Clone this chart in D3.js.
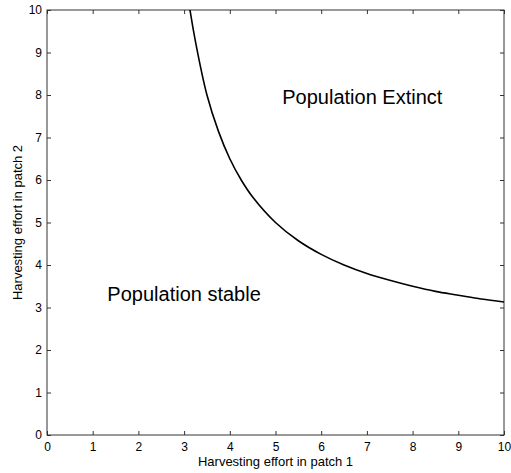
<!doctype html>
<html lang="en">
<head>
  <meta charset="utf-8">
  <title>Harvesting effort</title>
  <script src="https://cdn.jsdelivr.net/npm/d3@7"></script>
  <style>
    body { margin: 0; background: #fff; }
    text { font-family: Arial, "Liberation Sans", sans-serif; fill: #000; }
    .axis path, .axis line { stroke: #333; }
  </style>
</head>
<body>
<svg id="chart" width="511" height="473"></svg>
<script>
  // boundary curve
  var effort1 = [3.0, 3.1, 3.25, 3.5, 3.75, 4.0, 4.25, 4.5, 5.0, 5.5, 6.0, 6.5, 7.0, 7.5, 8.0, 8.5, 9.0, 9.5, 10];
  var effort2 = [11.0, 10.2, 9.25, 8.0, 7.15, 6.5, 6.0, 5.6, 5.0, 4.57, 4.25, 4.0, 3.8, 3.64, 3.5, 3.38, 3.29, 3.2, 3.13];
  var tickVals = [0, 1, 2, 3, 4, 5, 6, 7, 8, 9, 10];
  var labels = [
    { text: "Population Extinct", x: 6.9, y: 7.8 },
    { text: "Population stable", x: 3.0, y: 3.15 }
  ];

  var svg = d3.select("#chart");
  var plotL = 47, plotR = 504, plotT = 10, plotB = 435;

  var x = d3.scaleLinear().domain([0, 10]).range([plotL, plotR]);
  var y = d3.scaleLinear().domain([0, 10]).range([plotB, plotT]);

  svg.append("defs").append("clipPath").attr("id", "clip")
    .append("rect").attr("x", plotL).attr("y", plotT)
    .attr("width", plotR - plotL).attr("height", plotB - plotT);

  // box
  svg.append("rect")
    .attr("x", plotL).attr("y", plotT)
    .attr("width", plotR - plotL).attr("height", plotB - plotT)
    .attr("fill", "none").attr("stroke", "#333").attr("stroke-width", 1);

  // axes with inward ticks
  var gx = svg.append("g").attr("class", "axis").attr("transform", "translate(0," + plotB + ")")
    .call(d3.axisBottom(x).tickValues(tickVals).tickSizeInner(-4).tickSizeOuter(0).tickPadding(7));
  var gy = svg.append("g").attr("class", "axis").attr("transform", "translate(" + plotL + ",0)")
    .call(d3.axisLeft(y).tickValues(tickVals).tickSizeInner(-4).tickSizeOuter(0).tickPadding(5));
  svg.append("g").attr("class", "axis").attr("transform", "translate(0," + plotT + ")")
    .call(d3.axisTop(x).tickValues(tickVals).tickSizeInner(-4).tickSizeOuter(0).tickFormat(""));
  svg.append("g").attr("class", "axis").attr("transform", "translate(" + plotR + ",0)")
    .call(d3.axisRight(y).tickValues(tickVals).tickSizeInner(-4).tickSizeOuter(0).tickFormat(""));

  svg.selectAll(".axis .domain").remove();
  gx.selectAll("text").attr("font-size", 12).style("font-family", "Arial, 'Liberation Sans', sans-serif");
  gy.selectAll("text").attr("font-size", 12).style("font-family", "Arial, 'Liberation Sans', sans-serif");

  // boundary line
  var pts = effort1.map(function(d, i) { return [d, effort2[i]]; });
  var line = d3.line()
    .x(function(d) { return x(d[0]); })
    .y(function(d) { return y(d[1]); })
    .curve(d3.curveCatmullRom.alpha(0.5));
  svg.append("path")
    .datum(pts)
    .attr("clip-path", "url(#clip)")
    .attr("d", line)
    .attr("fill", "none")
    .attr("stroke", "#000")
    .attr("stroke-width", 1.6);

  svg.selectAll(".region")
    .data(labels).enter()
    .append("text")
    .attr("class", "region")
    .attr("x", function(d) { return x(d.x); })
    .attr("y", function(d) { return y(d.y); })
    .attr("text-anchor", "middle")
    .attr("font-size", 20)
    .text(function(d) { return d.text; });

  // axis titles
  svg.append("text")
    .attr("x", (plotL + plotR) / 2).attr("y", 466)
    .attr("text-anchor", "middle").attr("font-size", 13)
    .text("Harvesting effort in patch 1");
  svg.append("text")
    .attr("transform", "translate(22," + ((plotT + plotB) / 2) + ") rotate(-90)")
    .attr("text-anchor", "middle").attr("font-size", 13)
    .text("Harvesting effort in patch 2");
</script>
</body>
</html>
